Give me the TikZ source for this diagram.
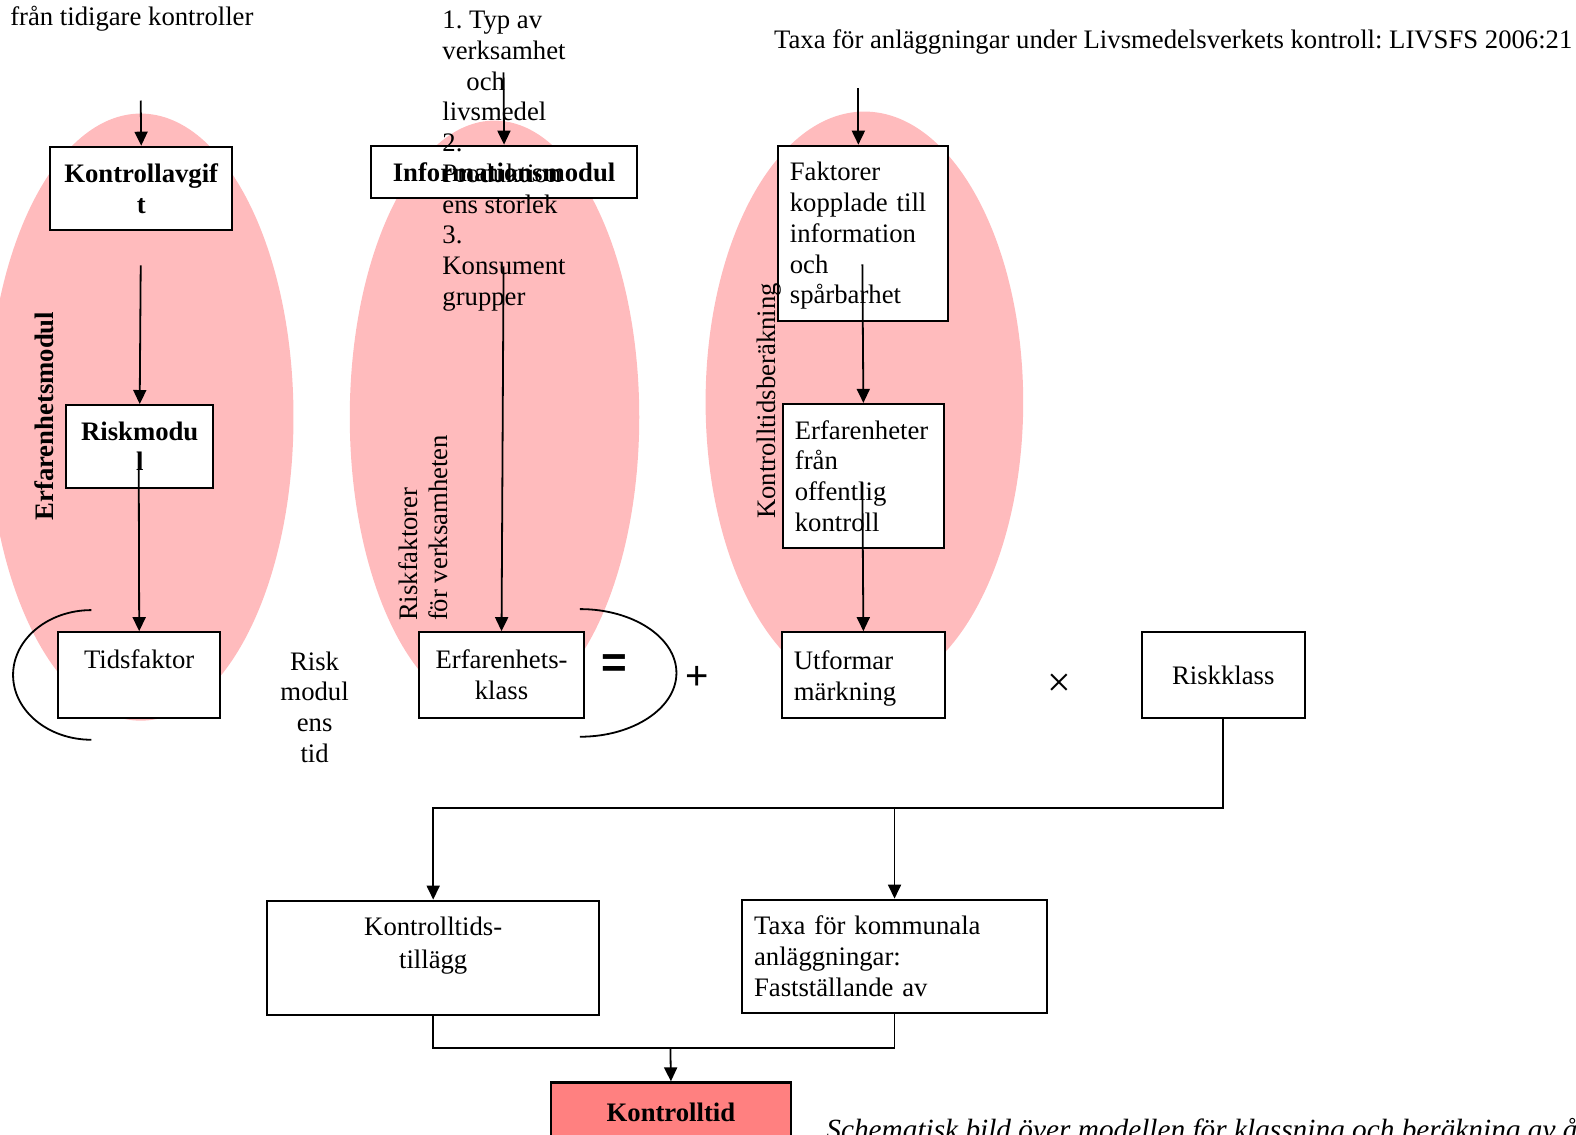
\documentclass[tikz,border=0pt]{standalone}
\usepackage{fontspec}
\setmainfont{Liberation Serif}
\newfontfamily\sansfam{Liberation Sans}
\usetikzlibrary{arrows.meta}
\definecolor{pinkfill}{RGB}{255,187,189}
\definecolor{redfill}{RGB}{255,128,128}
\newcommand\myfs{\fontsize{26.7}{30.7}\selectfont}
\frenchspacing
\begin{document}
\begin{tikzpicture}[x=1.0051pt,y=-1.0051pt,
  box/.style={draw, line width=2pt, fill=white, inner sep=0pt, font=\myfs},
  bbox/.style={box, font=\myfs\bfseries},
  conn/.style={line width=1.8pt},
  arr/.style={conn, -{Triangle[length=14pt,width=13pt]}},
  txt/.style={inner sep=0pt, font=\myfs}]
\useasboundingbox (0,0) rectangle (1568,1129.2);
\clip (0,0) rectangle (1568,1129.2);
% pink module ellipses
\fill[pinkfill] (140,415) ellipse [x radius=152, y radius=302];
\fill[pinkfill] (492,415) ellipse [x radius=144, y radius=295];
\fill[pinkfill] (860,400) ellipse [x radius=158, y radius=289];
% brackets
\draw[conn] (91,607) arc[start angle=-90, end angle=-270, x radius=78, y radius=64.5];
\draw[conn] (577,606) arc[start angle=-90, end angle=90, x radius=96, y radius=63.5];
% boxes
\node[bbox, minimum width=182pt, minimum height=83.5pt, text width=178pt, align=center] (kb) at (140.5,187.5) {Kontrollavgif\\t};
\node[bbox, minimum width=147pt, minimum height=82.5pt, text width=143pt, align=center] (rm) at (139,444) {Riskmodu\\l};
\node[box, minimum width=162pt, minimum height=85.5pt, text width=158pt, align=center, text depth=32pt] (tf) at (138.5,671.5) {Tidsfaktor};
\node[bbox, minimum width=266pt, minimum height=52.5pt] (im) at (501.5,171) {Informationsmodul};
\node[box, minimum width=165pt, minimum height=85.5pt, text width=161pt, align=center] (ek) at (499,671.5) {Erfarenhets-\\klass};
\node[box, minimum width=170pt, minimum height=175pt, text width=146pt, inner xsep=12pt, align=left, text height=24pt] (fk) at (858.5,232) {Faktorer\\kopplade till\\information\\och\\spårbarhet};
\node[box, minimum width=161pt, minimum height=144pt, text width=137pt, inner xsep=12pt, align=left] (eh) at (859,473.5) {Erfarenheter\\från\\offentlig\\kontroll};
\node[box, minimum width=163pt, minimum height=85.5pt, text width=139pt, inner xsep=12pt, align=left, text height=26pt] (um) at (859,671.5) {Utformar\\märkning};
\node[box, minimum width=163pt, minimum height=85.5pt] (rk) at (1217,671.5) {Riskklass};
\node[box, minimum width=332pt, minimum height=114.5pt, text width=328pt, align=center, text depth=64pt] (kt) at (431,953) {Kontrolltids-\\[2.5pt]tillägg};
\node[box, minimum width=305.5pt, minimum height=113.5pt, text width=281pt, inner xsep=12pt, align=left] (tx) at (890,951.5) {Taxa för kommunala\\anläggningar:\\Fastställande av};
\node[bbox, line width=2.6pt, fill=redfill, minimum width=240pt, minimum height=62pt, text depth=3pt] (kt2) at (667.5,1108) {Kontrolltid};
% free texts
\node[txt, anchor=base west] (t1) at (10,25) {från tidigare kontroller};
\node[txt, anchor=base west] (t2) at (770,48) {Taxa för anläggningar under Livsmedelsverkets kontroll: LIVSFS 2006:21};
\node[txt, anchor=north west, align=left] (t3) at (440,11) {1. Typ av\\verksamhet\\\hspace*{24pt}och\\livsmedel\\2.\\Produktion\\ens storlek\\3.\\Konsument\\grupper};
\node[txt, anchor=north, align=center] (t4) at (313,648) {Risk\\modul\\ens\\tid};
\node[txt, rotate=90, font=\myfs\bfseries] (t5) at (44,414) {Erfarenhetsmodul};
\node[txt, rotate=90, anchor=west, align=left] (t6) at (421,618) {Riskfaktorer\\för verksamheten};
\node[txt, rotate=90] (t7) at (765,399) {Kontrolltidsberäkning};
\node[inner sep=0pt, font=\sansfam\bfseries\fontsize{44}{44}\selectfont] (eq) at (611,663) {=};
\node[inner sep=0pt, font=\sansfam\fontsize{40}{40}\selectfont] (pl) at (694,675) {+};
\node[inner sep=0pt, font=\fontsize{42}{42}\selectfont] (mu) at (1054,682) {×};
\node[txt, anchor=base west, font=\fontsize{29.3}{33}\selectfont\itshape] (cap) at (822,1134) {Schematisk bild över modellen för klassning och beräkning av å};
% connectors
\coordinate (a1) at (140,100);
\coordinate (a2) at (140,264);
\coordinate (a3) at (138,450);
\coordinate (a4) at (501,72);
\coordinate (a5) at (501,265);
\coordinate (a6) at (854,88);
\coordinate (a7) at (858,263);
\coordinate (a8) at (858,480);
\coordinate (j1) at (1217,804);
\coordinate (j2) at (667,1043);
\draw[arr] (a1) -- (kb.north);
\draw[arr] (a2) -- (rm.north);
\draw[arr] (a3) -- (tf.north);
\draw[arr] (a4) -- (im.north);
\draw[arr] (a5) -- (ek.north);
\draw[arr] (a6) -- (a6 |- fk.north);
\draw[arr] (a7) -- (eh.north);
\draw[arr] (a8) -- (um.north);
\draw[arr] (rk.south) -- (rk.south |- j1) -| (kt.north);
\draw[arr] (tx.north |- j1) -- (tx.north);
\draw[conn] (kt.south) |- (tx.south |- j2) -- (tx.south);
\draw[arr] (j2) -- (kt2.north);
\end{tikzpicture}
\end{document}
